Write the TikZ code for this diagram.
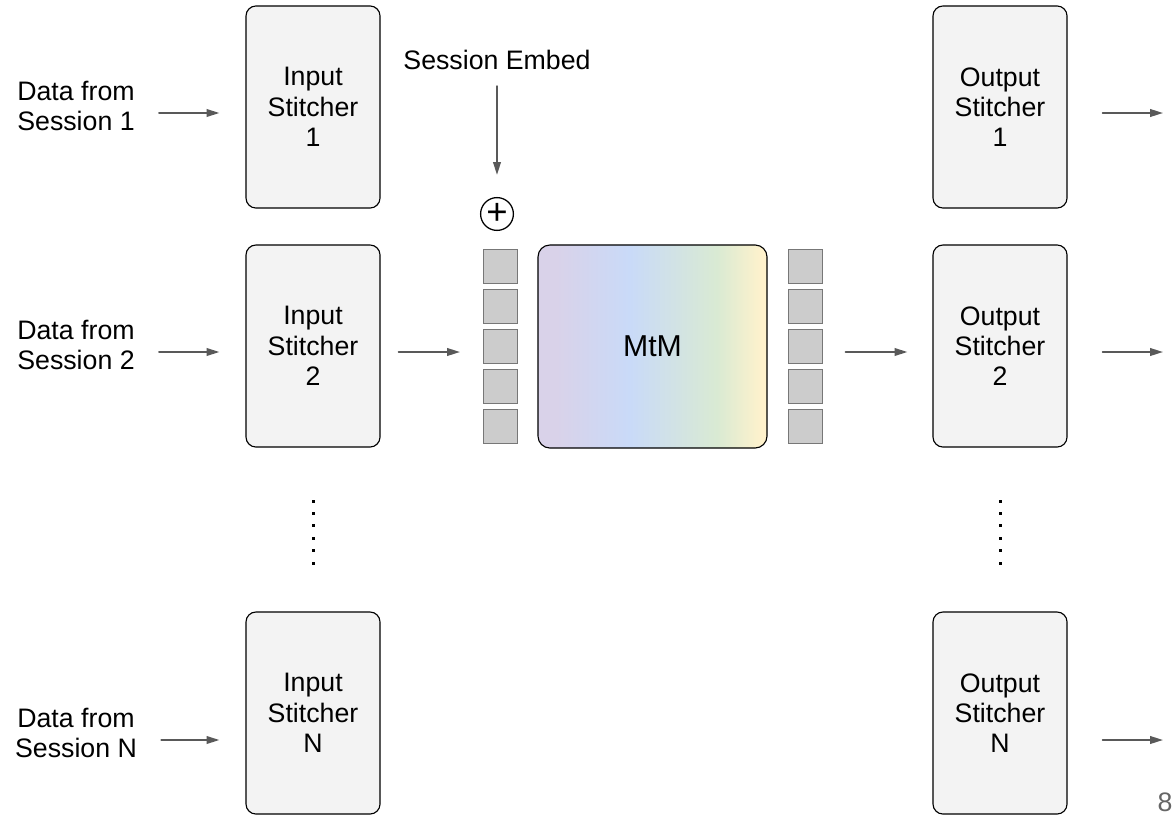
\documentclass[tikz,border=0pt]{standalone}
\usepackage{fontspec}
\setmainfont{Liberation Sans}
\usetikzlibrary{arrows.meta}
\definecolor{boxfill}{HTML}{F3F3F3}
\definecolor{tokfill}{HTML}{CCCCCC}
\definecolor{tokline}{HTML}{777777}
\definecolor{arrgray}{HTML}{595959}
\definecolor{pagegray}{HTML}{666666}
\definecolor{mtmA}{HTML}{D9D2E9}
\definecolor{mtmB}{HTML}{C9DAF8}
\definecolor{mtmC}{HTML}{D9EAD3}
\definecolor{mtmD}{HTML}{FFF2CC}
\pgfdeclarehorizontalshading{mtmshade}{100bp}{color(0bp)=(mtmA); color(25bp)=(mtmA); color(29bp)=(mtmA); color(45bp)=(mtmB); color(64bp)=(mtmC); color(74bp)=(mtmD); color(100bp)=(mtmD)}
\newcommand{\bigtext}{\fontsize{19}{21.5}\selectfont}
\newcommand{\mtmfont}{\fontsize{21.5}{25}\selectfont}

\begin{document}
\begin{tikzpicture}[x=0.025cm,y=-0.025cm,line cap=round,
  stitcher/.style={draw,line width=0.8pt,fill=boxfill,rounded corners=0.25cm,minimum width=3.35cm,minimum height=5.05cm,align=center,font=\bigtext},
  token/.style={draw=tokline,fill=tokfill,line width=0.7pt,minimum size=0.85cm,inner sep=0},
  label/.style={align=center,inner sep=0,font=\bigtext},
  arr/.style={draw=arrgray,line width=1.2pt,-{Triangle[length=0.32cm,width=0.19cm]}}]
\useasboundingbox (0,0) rectangle (1175,815);

% rows of the arrows
\coordinate (tip1) at (1163,113);
\coordinate (tip2) at (1163,352);
\coordinate (tipN) at (1163,740);

% sessions
\node[label] (data1) at (76,106) {Data from\\Session 1};
\node[label] (data2) at (76,345) {Data from\\Session 2};
\node[label] (dataN) at (76,733) {Data from\\Session N};

% stitchers
\node[stitcher] (in1) at (313,107) {Input\\Stitcher\\1};
\node[stitcher] (in2) at (313,346) {Input\\Stitcher\\2};
\node[stitcher] (inN) at (313,713) {Input\\Stitcher\\N};
\node[stitcher] (out1) at (1000,107) {Output\\Stitcher\\1};
\node[stitcher] (out2) at (1000,346) {Output\\Stitcher\\2};
\node[stitcher] (outN) at (1000,713) {Output\\Stitcher\\N};

% model
\node[draw,line width=0.8pt,rounded corners=0.3cm,shading=mtmshade,minimum width=5.725cm,minimum height=5.075cm,font=\mtmfont] (mtm) at (652.5,346.5) {MtM};
\foreach \k in {1,...,5} {
  \node[token] (tokL\k) at (500.5,{226.5+40*\k}) {};
  \node[token] (tokR\k) at (805,{226.5+40*\k}) {};
}
\node[label] (embed) at (497,60) {Session Embed};
\node[circle,draw,line width=0.9pt,minimum size=0.82cm,inner sep=0,font=\fontsize{26}{26}\selectfont] (plus) at (497,214) {+};

% arrows
\draw[arr,shorten <=0.6cm,shorten >=0.65cm] (tip1 -| data1.east) -- (tip1 -| in1.west);
\draw[arr,shorten <=0.6cm,shorten >=0.65cm] (tip2 -| data2.east) -- (tip2 -| in2.west);
\draw[arr,shorten <=0.6cm,shorten >=0.65cm] (tipN -| dataN.east) -- (tipN -| inN.west);
\draw[arr,shorten <=0.45cm,shorten >=0.575cm] (tip2 -| in2.east) -- (tip2 -| tokL3.west);
\draw[arr,shorten <=0.575cm,shorten >=0.625cm] (tip2 -| tokR3.east) -- (tip2 -| out2.west);
\draw[arr,shorten <=0.4cm,shorten >=0.55cm] (embed.south) -- (plus.north);
\draw[arr,shorten <=0.875cm] (tip1 -| out1.east) -- (tip1);
\draw[arr,shorten <=0.875cm] (tip2 -| out2.east) -- (tip2);
\draw[arr,shorten <=0.875cm] (tipN -| outN.east) -- (tipN);

% dots
\foreach \i in {0,...,5} {
  \fill (311.5,{499.5+12.4*\i}) rectangle ++(3,3);
  \fill (998.5,{499.5+12.4*\i}) rectangle ++(3,3);
}

\node[text=pagegray,font=\bigtext,inner sep=0] (pagenum) at (1165,802) {8};
\end{tikzpicture}
\end{document}
